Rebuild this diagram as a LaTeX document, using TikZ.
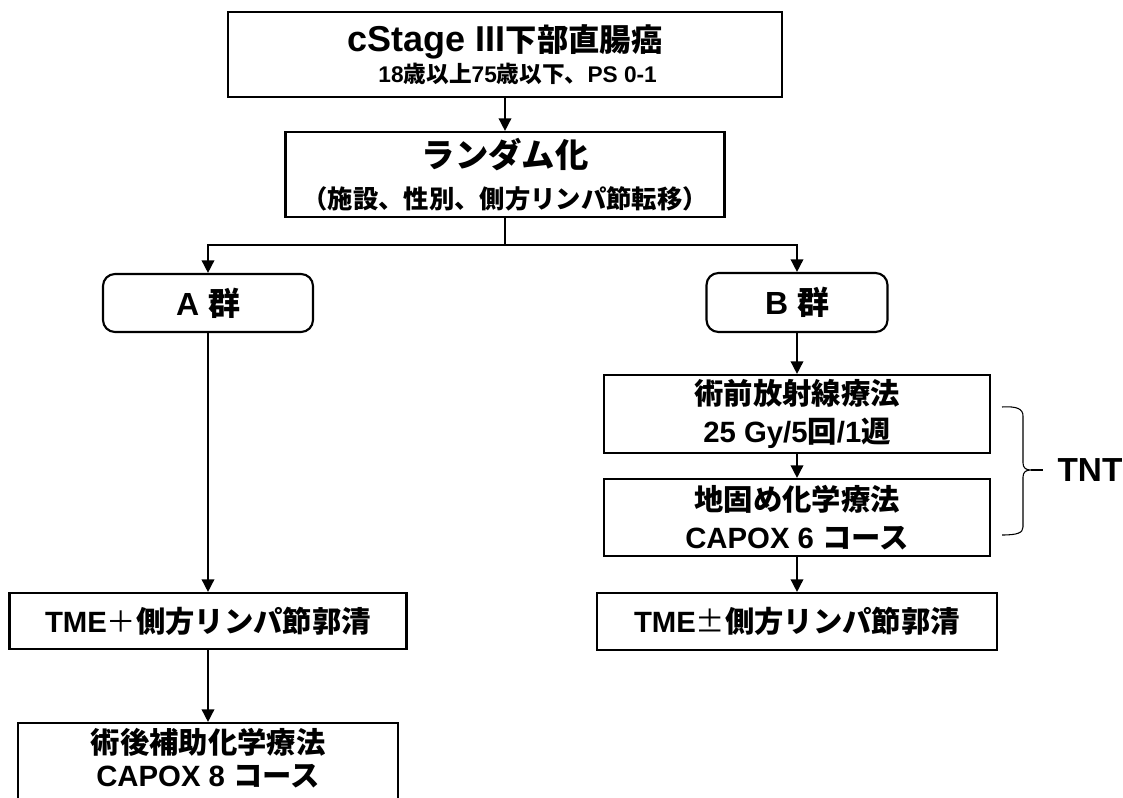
\documentclass[tikz,border=0pt]{standalone}
\usepackage{fontspec}
\setmainfont{Liberation Sans}
\newfontfamily\jp{Noto Sans CJK JP}
\newfontfamily\jpm{Noto Sans CJK JP}
\usetikzlibrary{arrows.meta}
\newcommand\fs[2]{\fontsize{#1}{#2}\selectfont}
\tikzset{
  box/.style={draw, line width=1.6pt, inner sep=0pt, align=center, font=\bfseries},
  grp/.style={box, rounded corners=9pt},
  txt/.style={inner sep=0pt, align=center, font=\bfseries},
  conn/.style={line width=1.2pt},
  arr/.style={conn, -{Triangle[length=9.5pt,width=9.5pt]}},
  bracestyle/.style={line width=0.8pt}
}
\begin{document}
\begin{tikzpicture}[x=0.75pt, y=-0.75pt]
\useasboundingbox (0,0) rectangle (1123,798);
\clip (0,0) rectangle (1123,798);
\fill[white] (0,0) rectangle (1123,798);

\node[box, line width=2.2pt, minimum width=554*0.75pt, minimum height=85*0.75pt,
      font=\bfseries\fs{17}{23}] (top) at (505,54.5)
  {{\fs{27}{30}cStage III{\jp\fs{23.5}{30}下部直腸癌}}\\
   \hspace*{19pt}18{\jp 歳以上}75{\jp 歳以下、}PS 0-1};

\node[box, minimum width=439*0.75pt, minimum height=85*0.75pt,
      font=\bfseries\fs{19}{31}] (rand) at (505,174.5)
  {{\jp\fs{25}{30}ランダム化}\\
   {\jp （施設、性別、側方リンパ節転移）}};

\node[grp, minimum width=210*0.75pt, minimum height=58*0.75pt, font=\bfseries\fs{24}{28}] (A) at (208,303)
  {A {\jp 群}};
\node[grp, minimum width=181*0.75pt, minimum height=59*0.75pt, font=\bfseries\fs{24}{28}] (B) at (797,302.5)
  {B {\jp 群}};

\node[box, minimum width=386*0.75pt, minimum height=78*0.75pt, font=\bfseries\fs{22}{28}] (rad) at (797,414)
  {{\jp 術前放射線療法}\\
   25 Gy/5{\jp 回}/1{\jp 週}};
\node[box, minimum width=386*0.75pt, minimum height=77*0.75pt, font=\bfseries\fs{22}{29}] (chemo) at (797,517.5)
  {{\jp 地固め化学療法}\\
   CAPOX 6 {\jp コース}};

\node[box, minimum width=400*0.75pt, minimum height=57*0.75pt, font=\bfseries\fs{22}{27}] (tmeR) at (797,621.5)
  {TME{\jpm\mdseries ±}{\jp 側方リンパ節郭清}};
\node[box, minimum width=397*0.75pt, minimum height=56*0.75pt, font=\bfseries\fs{22}{27}] (tmeL) at (208,621)
  {TME{\jpm\mdseries ＋}{\jp 側方リンパ節郭清}};

\node[box, minimum width=380*0.75pt, minimum height=84*0.75pt] (post) at (208,765) {};
\node[txt, font=\bfseries\fs{22}{25}] (posttxt) at (208,758)
  {{\jp 術後補助化学療法}\\
   CAPOX 8 {\jp コース}};

\node[txt, font=\bfseries\fs{25}{30}] (tnt) at (1090,470) {TNT};

% connectors
\draw[arr] (top.south) -- (rand.north);
\coordinate (split) at (505,245);
\draw[conn] (rand.south) -- (split);
\draw[arr] (split) -| (A.north);
\draw[arr] (split) -| (B.north);
\draw[arr] (A.south) -- (A.south |- tmeL.north);
\draw[arr] (B.south) -- (rad.north);
\draw[arr] (rad.south) -- (chemo.north);
\draw[arr] (chemo.south) -- (tmeR.north);
\draw[arr] (tmeL.south) -- (tmeL.south |- post.north);

% brace
\coordinate (tip) at (1031,470);
\draw[bracestyle] (1002,407) .. controls (1017,406) and (1023,409) .. (1023,416) -- (1023,463)
  .. controls (1023,468) and (1026,470) .. (tip)
  .. controls (1026,470) and (1023,472) .. (1023,477) -- (1023,527)
  .. controls (1023,533) and (1017,535) .. (1002,535);
\draw[line width=1.3pt] (tip) -- (1043,470);
\end{tikzpicture}
\end{document}
